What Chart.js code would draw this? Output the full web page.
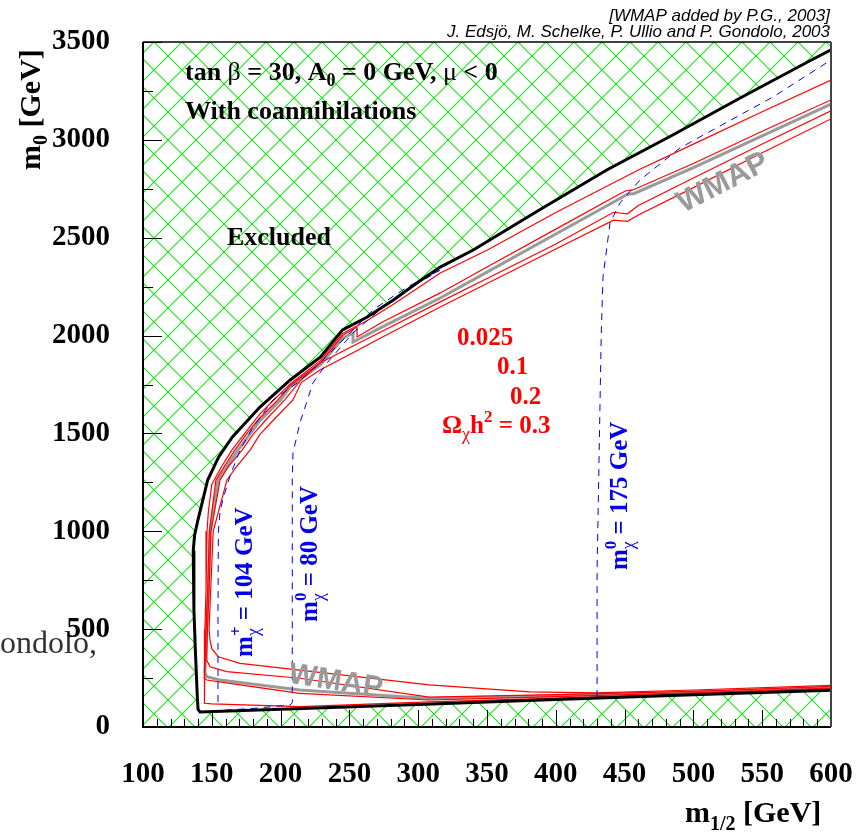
<!DOCTYPE html>
<html lang="en">
<head>
  <meta charset="UTF-8">
  <script src="https://cdn.jsdelivr.net/npm/chart.js"></script>
  <style>
    html, body { margin: 0; padding: 0; background: #fff; }
    #wrap { width: 856px; height: 833px; }
  </style>
</head>
<body>
  <div id="wrap"><canvas id="plane" width="856" height="833"></canvas></div>

  <script>
    // tick labels
    const xTicks = [100, 150, 200, 250, 300, 350, 400, 450, 500, 550, 600];
    const yTicks = [0, 500, 1000, 1500, 2000, 2500, 3000, 3500];

    // [m1/2, m0] in GeV
    const boundary = [
      [600, 3460], [583, 3398], [534, 3214], [485, 3025], [437, 2846], [388, 2642], [340, 2437],
      [316, 2350], [299, 2269], [282, 2182], [263, 2095], [245, 2029], [229, 1891], [207, 1773],
      [185, 1635], [165, 1482], [155, 1380], [147, 1262], [143.5, 1160], [140, 1060], [137.5, 980],
      [136.5, 900], [137, 600], [138, 400], [139.5, 150], [140, 90], [141.5, 77],
      [200, 91], [300, 115], [400, 140], [500, 165], [600, 188]
    ];

    const omega0025 = [
      [600, 3306], [550, 3144], [500, 2978], [460, 2846], [400, 2629], [350, 2436], [316, 2320],
      [300, 2244], [282, 2160], [263, 2077], [245, 2011], [229, 1873], [207, 1753], [195, 1671],
      [185, 1600], [175, 1510], [164.6, 1415], [157, 1330], [150, 1240], [147.5, 1100], [146.5, 1000],
      [145.8, 700], [145, 500], [144.5, 300], [144.5, 240], [145, 121], [150, 118], [214, 104],
      [308, 128], [400, 148], [500, 170], [600, 194]
    ];

    const omega01 = [
      [600, 3204], [550, 3044], [500, 2879], [456, 2744], [451, 2740], [446, 2722], [400, 2544],
      [350, 2350], [316, 2218], [274, 2069], [255.5, 1993], [255.5, 2044], [245, 2000], [229, 1862],
      [207, 1745], [198, 1671], [185, 1580], [175, 1495], [166.8, 1415], [159, 1330], [153, 1262],
      [148.2, 1000], [147, 700], [145.8, 500], [145.2, 350], [144.5, 249], [146.3, 240], [170.5, 215],
      [214, 172], [308, 138], [400, 155], [500, 175], [600, 199]
    ];

    const wmapBand = [
      [600, 3183], [550, 3020], [500, 2858], [457, 2726], [452, 2722], [447, 2702], [400, 2519],
      [350, 2324], [316, 2192], [274, 2044], [252.6, 1967], [252.6, 2013], [245, 1985], [229, 1852],
      [207, 1738], [200, 1671], [185, 1565], [169, 1415], [160, 1320], [154.5, 1262], [148.8, 1000],
      [147.5, 700], [146.2, 500], [145.8, 400], [145, 281], [146.3, 257], [156, 240], [214, 189],
      [308, 145], [400, 160], [500, 178], [600, 203]
    ];

    const omega02 = [
      [600, 3148], [550, 2979], [500, 2805], [460, 2665], [452, 2622], [442, 2630], [400, 2468],
      [350, 2292], [316, 2172], [272, 2016], [252.6, 1947], [228.6, 1860], [215, 1775], [203, 1671],
      [190, 1575], [180, 1495], [172, 1415], [162, 1330], [156, 1262], [149.4, 1000], [148, 700],
      [146.8, 500], [146.3, 342], [148.7, 308], [160.8, 283], [214, 249], [308, 153], [400, 165],
      [500, 182], [600, 207]
    ];

    const omega03 = [
      [600, 3107], [550, 2934], [500, 2756], [460, 2616], [452, 2584], [442, 2590], [400, 2442],
      [350, 2266], [316, 2146], [272, 1985], [252.6, 1912], [228.6, 1824], [215, 1760], [209, 1671],
      [195, 1570], [185, 1495], [177.8, 1415], [168, 1330], [161, 1262], [151, 1000], [149.2, 700],
      [148, 500], [148.7, 445], [150, 400], [154.7, 359], [170.5, 325], [214, 291], [308, 215],
      [381, 179], [430, 174], [500, 189], [600, 213]
    ];

    const chargino104 = [
      [154.5, 128], [154.5, 600], [154.8, 1000], [156, 1100], [158, 1160], [163, 1277], [170.5, 1415],
      [180, 1533], [194.5, 1671], [212, 1758], [228.6, 1860], [243, 1962], [252.6, 2029], [267, 2131],
      [292, 2248], [316, 2335]
    ];

    const neutralino80 = [
      [150, 82], [180, 95], [206.8, 112], [208.5, 125], [208.5, 700], [208.5, 1262], [209, 1400],
      [214, 1553], [223.5, 1758], [233.7, 1860], [252.6, 2013], [272, 2131], [292, 2233], [316, 2335]
    ];

    const neutralino175 = [
      [430, 153], [430, 800], [431.5, 1400], [433, 2000], [434.3, 2299], [439.4, 2575], [446.7, 2678],
      [461.2, 2795], [490.3, 2959], [557.8, 3219], [600, 3408]
    ];

    const SERIF = '"Liberation Serif", "Times New Roman", serif';
    const SANS = '"Liberation Sans", Arial, sans-serif';

    const pts = arr => arr.map(p => ({ x: p[0], y: p[1] }));

    const canvas = document.getElementById('plane');
    const ctx = canvas.getContext('2d');

    function makeHatch() {
      const tile = document.createElement('canvas');
      tile.width = 28;
      tile.height = 28;
      const g = tile.getContext('2d');
      g.strokeStyle = '#1ee01e';
      g.lineWidth = 1.1;
      for (const o of [-28, 0, 28]) {
        g.beginPath(); g.moveTo(o, 0); g.lineTo(o + 28, 28); g.stroke();
        g.beginPath(); g.moveTo(o, 28); g.lineTo(o + 28, 0); g.stroke();
      }
      return ctx.createPattern(tile, 'repeat');
    }

    // excluded area: everything outside the black boundary
    const excluded = [[100, 0], [100, 3500], [600, 3500]].concat(boundary, [[600, 0]]);

    function curve(label, arr, color, width, order, dash) {
      return {
        label: label,
        data: pts(arr),
        showLine: true,
        pointRadius: 0,
        borderColor: color,
        borderWidth: width,
        borderDash: dash || [],
        fill: false,
        order: order
      };
    }

    // text with sub/superscripts; parts: {t, f, dy, keep}
    function drawRich(c, x, y, parts, angle, color, align) {
      c.save();
      c.translate(x, y);
      c.rotate(angle * Math.PI / 180);
      c.fillStyle = color;
      c.textBaseline = 'alphabetic';
      c.textAlign = 'left';
      let total = 0, kept = 0;
      parts.forEach(p => {
        c.font = p.f;
        const w = c.measureText(p.t).width;
        if (p.keep) { kept = w; } else { total += Math.max(w, kept); kept = 0; }
      });
      let cx = align === 'center' ? -total / 2 : align === 'right' ? -total : 0;
      kept = 0;
      parts.forEach(p => {
        c.font = p.f;
        const w = c.measureText(p.t).width;
        c.fillText(p.t, cx, p.dy || 0);
        if (p.keep) { kept = w; } else { cx += Math.max(w, kept); kept = 0; }
      });
      c.restore();
    }

    const b = (s) => 'bold ' + s + 'px ' + SERIF;
    const n = (s) => s + 'px ' + SERIF;

    const annotations = {
      id: 'annotations',
      beforeDraw(chart) {
        const c = chart.ctx;
        c.save();
        c.font = n(32);
        c.fillStyle = '#333';
        c.fillText('ondolo,', 0, 653);
        c.restore();
      },
      afterDatasetsDraw(chart) {
        const c = chart.ctx;
        const X = v => chart.scales.x.getPixelForValue(v);
        const Y = v => chart.scales.y.getPixelForValue(v);

        drawRich(c, X(130.5), Y(3306), [
          { t: 'tan ', f: b(26) }, { t: 'β', f: n(26) }, { t: ' = 30, A', f: b(26) },
          { t: '0', f: b(18), dy: 6 }, { t: ' = 0 GeV, ', f: b(26) }, { t: 'μ', f: n(26) },
          { t: ' < 0', f: b(26) }
        ], 0, '#000', 'left');
        drawRich(c, X(130.5), Y(3107), [{ t: 'With coannihilations', f: b(26) }], 0, '#000', 'left');
        drawRich(c, X(161), Y(2463), [{ t: 'Excluded', f: b(26) }], 0, '#000', 'left');

        const red = '#ff0000';
        drawRich(c, X(328.2), Y(1952), [{ t: '0.025', f: b(25) }], 0, red, 'left');
        drawRich(c, X(357.3), Y(1804), [{ t: '0.1', f: b(25) }], 0, red, 'left');
        drawRich(c, X(366.7), Y(1650), [{ t: '0.2', f: b(25) }], 0, red, 'left');
        drawRich(c, X(317.3), Y(1502), [
          { t: 'Ω', f: b(25) }, { t: 'χ', f: n(18), dy: 7 }, { t: 'h', f: b(25) },
          { t: '2', f: b(17), dy: -11 }, { t: ' = 0.3', f: b(25) }
        ], 0, red, 'left');

        const blue = '#0000ee';
        drawRich(c, X(179.2), Y(358), [
          { t: 'm', f: b(25) }, { t: 'χ', f: n(18), dy: 7, keep: true }, { t: '+', f: b(17), dy: -11 },
          { t: ' = 104 GeV', f: b(25) }
        ], -90, blue, 'left');
        drawRich(c, X(226.5), Y(537), [
          { t: 'm', f: b(25) }, { t: 'χ', f: n(18), dy: 7, keep: true }, { t: '0', f: b(17), dy: -11 },
          { t: ' = 80 GeV', f: b(25) }
        ], -90, blue, 'left');
        drawRich(c, X(451.7), Y(802), [
          { t: 'm', f: b(25) }, { t: 'χ', f: n(18), dy: 7, keep: true }, { t: '0', f: b(17), dy: -11 },
          { t: ' = 175 GeV', f: b(25) }
        ], -90, blue, 'left');

        const grey = '#9a9a9a';
        drawRich(c, X(240.3), Y(245), [{ t: 'WMAP', f: 'bold 30px ' + SANS, dy: 11 }], 9, grey, 'center');
        drawRich(c, X(520.8), Y(2790), [{ t: 'WMAP', f: 'bold 31px ' + SANS, dy: 11 }], -27, grey, 'center');
      },
      afterDraw(chart) {
        const c = chart.ctx;
        const a = chart.chartArea;
        const X = v => chart.scales.x.getPixelForValue(v);
        const Y = v => chart.scales.y.getPixelForValue(v);

        // inward tick marks
        c.save();
        c.strokeStyle = '#000';
        c.lineWidth = 1;
        c.beginPath();
        for (let v = 100; v <= 600; v += 10) {
          const len = v % 50 === 0 ? 17 : 8;
          const px = Math.round(X(v)) + 0.5;
          c.moveTo(px, a.bottom);
          c.lineTo(px, a.bottom - len);
        }
        for (let v = 0; v <= 3500; v += 250) {
          const len = v % 500 === 0 ? 19 : 10;
          const py = Math.round(Y(v)) + 0.5;
          c.moveTo(a.left, py);
          c.lineTo(a.left + len, py);
        }
        c.stroke();

        // frame
        c.lineWidth = 2;
        c.strokeStyle = '#000';
        c.beginPath();
        c.moveTo(a.left, a.top);
        c.lineTo(a.left, a.bottom);
        c.lineTo(a.right, a.bottom);
        c.stroke();
        c.lineWidth = 1.5;
        c.beginPath();
        c.moveTo(a.left, a.top);
        c.lineTo(a.right, a.top);
        c.stroke();
        c.strokeStyle = '#444';
        c.lineWidth = 2;
        c.beginPath();
        c.moveTo(a.right, a.top);
        c.lineTo(a.right, a.bottom);
        c.stroke();
        c.restore();

        // axis titles
        drawRich(c, 40, 170, [
          { t: 'm', f: b(30) }, { t: '0', f: b(20), dy: 7 }, { t: ' [GeV]', f: b(30) }
        ], -90, '#000', 'left');
        drawRich(c, 685, 822, [
          { t: 'm', f: b(30) }, { t: '1/2', f: b(20), dy: 8 }, { t: ' [GeV]', f: b(30) }
        ], 0, '#000', 'left');

        // credits
        c.save();
        c.fillStyle = '#000';
        c.font = 'italic 17px ' + SANS;
        c.textAlign = 'right';
        c.fillText('[WMAP added by P.G., 2003]', 830, 21);
        c.fillText('J. Edsjö, M. Schelke, P. Ullio and P. Gondolo, 2003', 830, 37);
        c.restore();
      }
    };

    new Chart(ctx, {
      type: 'scatter',
      data: {
        datasets: [
          {
            label: 'Excluded',
            data: pts(excluded),
            showLine: true,
            pointRadius: 0,
            borderColor: 'rgba(0,0,0,0)',
            borderWidth: 1,
            backgroundColor: makeHatch(),
            fill: 'shape',
            order: 10
          },
          curve('WMAP', wmapBand, '#9a9a9a', 3, 4),
          curve('0.3', omega03, '#ff0000', 1.2, 3),
          curve('0.2', omega02, '#ff0000', 1.2, 3),
          curve('0.1', omega01, '#ff0000', 1.2, 3),
          curve('0.025', omega0025, '#ff0000', 1.2, 3),
          curve('m_chi+ = 104', chargino104, '#0000ee', 1, 2, [7, 6]),
          curve('m_chi0 = 80', neutralino80, '#0000ee', 1, 2, [7, 6]),
          curve('m_chi0 = 175', neutralino175, '#0000ee', 1, 2, [7, 6]),
          curve('boundary', boundary, '#000000', 3, 0)
        ]
      },
      options: {
        responsive: false,
        animation: false,
        layout: { padding: { left: 0, right: 25, top: 42, bottom: 0 } },
        plugins: {
          legend: { display: false },
          tooltip: { enabled: false }
        },
        scales: {
          x: {
            type: 'linear',
            min: 100,
            max: 600,
            afterFit: s => { s.height = 106; s.paddingLeft = 0; s.paddingRight = 0; },
            afterBuildTicks: s => { s.ticks = xTicks.map(v => ({ value: v })); },
            ticks: {
              color: '#000',
              font: { family: SERIF, size: 29, weight: 'bold' },
              padding: 22,
              maxRotation: 0,
              autoSkip: false,
              callback: v => String(v)
            },
            grid: { display: false },
            border: { display: false }
          },
          y: {
            type: 'linear',
            min: 0,
            max: 3500,
            afterFit: s => { s.width = 143; s.paddingTop = 0; s.paddingBottom = 0; },
            afterBuildTicks: s => { s.ticks = yTicks.map(v => ({ value: v })); },
            ticks: {
              color: '#000',
              font: { family: SERIF, size: 29, weight: 'bold' },
              padding: 25,
              autoSkip: false,
              callback: v => String(v)
            },
            grid: { display: false },
            border: { display: false }
          }
        }
      },
      plugins: [annotations]
    });
  </script>
</body>
</html>
